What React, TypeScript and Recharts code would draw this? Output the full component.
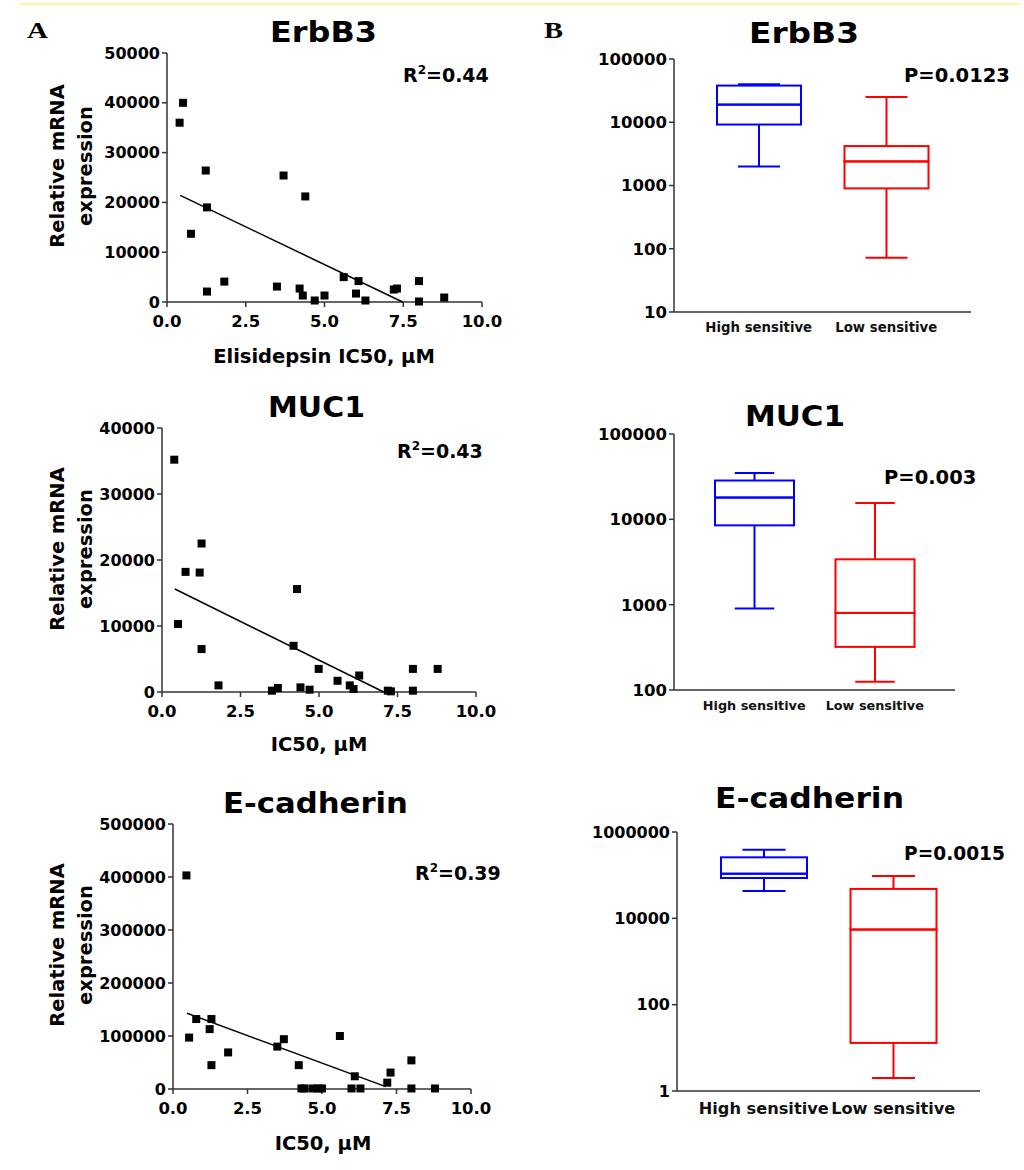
import React from 'react';
import { ScatterChart, Scatter, XAxis, YAxis, ComposedChart, Bar } from 'recharts';

// page has an 8px body margin by default; the figure is laid out from 0,0
if (typeof document !== 'undefined') document.body.style.margin = '0';

const FONT = '"DejaVu Sans", Verdana, sans-serif';
const AXIS = '#333';

// ---- panel A: IC50 (µM) vs relative mRNA expression ----
const icTicks = [0, 2.5, 5, 7.5, 10];

const erbb3Ic50 = [0.4, 0.51, 1.23, 1.27, 0.76, 1.27, 1.82, 3.49, 3.7, 4.39, 4.21, 4.31, 4.69, 5.0, 5.61, 6.08, 6.0, 6.3, 7.2, 7.3, 8.0, 8.0, 8.8];
const erbb3Expr = [36000, 40000, 26400, 19000, 13700, 2100, 4100, 3100, 25400, 21200, 2700, 1300, 300, 1300, 5000, 4200, 1700, 300, 2500, 2700, 4200, 100, 900];
const erbb3FitX = [0.42, 7.48];
const erbb3FitY = [21400, 0];
const erbb3YTicks = [0, 10000, 20000, 30000, 40000, 50000];

const muc1Ic50 = [0.39, 0.51, 0.75, 1.2, 1.26, 1.26, 1.8, 3.5, 3.69, 4.19, 4.3, 4.41, 4.7, 4.99, 5.59, 5.98, 6.1, 6.28, 7.19, 7.29, 7.99, 7.99, 8.78];
const muc1Expr = [35200, 10300, 18200, 18100, 22500, 6500, 1000, 200, 600, 7000, 15600, 700, 350, 3500, 1700, 1000, 450, 2500, 200, 100, 3500, 200, 3500];
const muc1FitX = [0.41, 7.06];
const muc1FitY = [15600, 0];
const muc1YTicks = [0, 10000, 20000, 30000, 40000];

const ecadIc50 = [0.45, 0.54, 0.78, 1.29, 1.23, 1.29, 1.85, 3.5, 3.72, 4.22, 4.31, 4.42, 4.7, 4.87, 5.0, 5.6, 5.99, 6.1, 6.29, 7.19, 7.3, 8.0, 8.0, 8.79];
const ecadExpr = [403000, 97000, 132000, 132000, 113000, 45000, 69000, 80000, 94000, 45000, 1000, 1000, 1000, 1000, 1000, 100000, 1000, 24000, 1000, 12000, 31000, 54000, 1000, 1000];
const ecadFitX = [0.47, 7.14];
const ecadFitY = [143000, 4400];
const ecadYTicks = [0, 100000, 200000, 300000, 400000, 500000];

// ---- panel B: box plots, [high sensitive, low sensitive] ----
const groups = ['High sensitive', 'Low sensitive'];
const groupColors = ['#0000ff', '#ff0000'];

const erbb3Min = [2000, 72];
const erbb3Q1 = [9200, 900];
const erbb3Med = [19000, 2400];
const erbb3Q3 = [38000, 4200];
const erbb3Max = [40000, 25000];
const erbb3LogTicks = [10, 100, 1000, 10000, 100000];

const muc1Min = [900, 125];
const muc1Q1 = [8500, 320];
const muc1Med = [18000, 800];
const muc1Q3 = [28500, 3400];
const muc1Max = [35000, 15500];
const muc1LogTicks = [100, 1000, 10000, 100000];

const ecadMin = [43000, 2];
const ecadQ1 = [86000, 13];
const ecadMed = [108000, 5500];
const ecadQ3 = [259000, 48000];
const ecadMax = [390000, 96000];
const ecadLogTicks = [1, 100, 10000, 1000000];

const tickStyle = (size: number) => ({ fontSize: size, fontWeight: 700, fill: '#000', fontFamily: FONT });

const square = (p: any) => <rect x={p.cx - 4} y={p.cy - 4} width={8} height={8} fill="#000" />;
const noDot = () => <g />;

function ScatterPanel({ x0, y0, x1, y1, xs, ys, fitX, fitY, yTicks }: any) {
  const yAxisW = 90;
  const top = y0 - 10;
  const xAxisH = 32;
  const width = x1 + 30;
  const height = y1 - top + xAxisH + 8;
  const pts = xs.map((x: number, i: number) => ({ x, y: ys[i] }));
  const fit = fitX.map((x: number, i: number) => ({ x, y: fitY[i] }));
  return (
    <div style={{ position: 'absolute', left: 0, top }}>
      <ScatterChart width={width} height={height} margin={{ top: 10, right: 30, bottom: 8, left: x0 - yAxisW }}>
        <XAxis
          type="number"
          dataKey="x"
          domain={[0, 10]}
          ticks={icTicks}
          interval={0}
          tickFormatter={(v: number) => v.toFixed(1)}
          height={xAxisH}
          tickSize={5}
          tickMargin={8}
          tick={tickStyle(16.5)}
          axisLine={{ stroke: AXIS, strokeWidth: 1.5 }}
          tickLine={{ stroke: AXIS, strokeWidth: 1.5 }}
        />
        <YAxis
          type="number"
          dataKey="y"
          domain={[0, yTicks[yTicks.length - 1]]}
          ticks={yTicks}
          interval={0}
          width={yAxisW}
          tickSize={5}
          tickMargin={2}
          tick={tickStyle(16)}
          axisLine={{ stroke: AXIS, strokeWidth: 1.5 }}
          tickLine={{ stroke: AXIS, strokeWidth: 1.5 }}
        />
        <Scatter data={pts} shape={square} isAnimationActive={false} />
        <Scatter data={fit} line={{ stroke: '#000', strokeWidth: 1.5 }} shape={noDot} isAnimationActive={false} />
      </ScatterChart>
    </div>
  );
}

const span = (p: any) => {
  const top = Math.min(p.y, p.y + p.height);
  const h = Math.abs(p.height);
  return { top, h, cx: p.x + p.width / 2 };
};

const boxPart = (p: any) => {
  const { top, h } = span(p);
  return <rect x={p.x} y={top} width={p.width} height={h} fill="none" stroke={groupColors[p.index]} strokeWidth={2} />;
};

const upperWhisker = (p: any) => {
  const { top, h, cx } = span(p);
  const c = groupColors[p.index];
  return (
    <g stroke={c} strokeWidth={2}>
      <line x1={cx} x2={cx} y1={top} y2={top + h} />
      <line x1={cx - p.width / 4} x2={cx + p.width / 4} y1={top} y2={top} />
    </g>
  );
};

const lowerWhisker = (p: any) => {
  const { top, h, cx } = span(p);
  const c = groupColors[p.index];
  return (
    <g stroke={c} strokeWidth={2}>
      <line x1={cx} x2={cx} y1={top} y2={top + h} />
      <line x1={cx - p.width / 4} x2={cx + p.width / 4} y1={top + h} y2={top + h} />
    </g>
  );
};

function BoxPanel({ x0, y0, x1, y1, mins, q1s, meds, q3s, maxs, yTicks, boxW, pad, labelSize, yFont }: any) {
  const left = 520;
  const yAxisW = 90;
  const top = y0 - 10;
  const xAxisH = 30;
  const width = x1 - left + 20;
  const height = y1 - top + xAxisH + 8;
  const rows = groups.map((g, i) => ({ group: g, min: mins[i], q1: q1s[i], med: meds[i], q3: q3s[i], max: maxs[i] }));
  const hiddenAxis = (id: string) => (
    <XAxis xAxisId={id} dataKey="group" type="category" padding={{ left: pad, right: pad }} hide />
  );
  return (
    <div style={{ position: 'absolute', left, top }}>
      <ComposedChart width={width} height={height} data={rows} margin={{ top: 10, right: 20, bottom: 8, left: x0 - left - yAxisW }}>
        <XAxis
          xAxisId="lower"
          dataKey="group"
          type="category"
          padding={{ left: pad, right: pad }}
          interval={0}
          height={xAxisH}
          tickLine={false}
          tickSize={0}
          tickMargin={11}
          tick={{ fontSize: labelSize, fontWeight: 700, fill: '#111', fontFamily: FONT }}
          axisLine={{ stroke: AXIS, strokeWidth: 1.5 }}
        />
        {hiddenAxis('upper')}
        {hiddenAxis('whiskHi')}
        {hiddenAxis('whiskLo')}
        <YAxis
          type="number"
          scale="log"
          domain={[yTicks[0], yTicks[yTicks.length - 1]]}
          ticks={yTicks}
          interval={0}
          allowDataOverflow
          width={yAxisW}
          tickSize={5}
          tickMargin={2}
          tick={tickStyle(yFont)}
          axisLine={{ stroke: AXIS, strokeWidth: 1.5 }}
          tickLine={{ stroke: AXIS, strokeWidth: 1.5 }}
        />
        <Bar xAxisId="lower" dataKey={(d: any) => [d.q1, d.med]} barSize={boxW} shape={boxPart} isAnimationActive={false} />
        <Bar xAxisId="upper" dataKey={(d: any) => [d.med, d.q3]} barSize={boxW} shape={boxPart} isAnimationActive={false} />
        <Bar xAxisId="whiskHi" dataKey={(d: any) => [d.q3, d.max]} barSize={boxW} shape={upperWhisker} isAnimationActive={false} />
        <Bar xAxisId="whiskLo" dataKey={(d: any) => [d.min, d.q1]} barSize={boxW} shape={lowerWhisker} isAnimationActive={false} />
      </ComposedChart>
    </div>
  );
}

const bold = { fontFamily: FONT, fontWeight: 700, fill: '#000' } as const;
const SERIF = '"Liberation Serif", "DejaVu Serif", serif';

function Title({ cx, y, w, children }: any) {
  return (
    <text x={cx} y={y} textAnchor="middle" fontSize={29} textLength={w} lengthAdjust="spacingAndGlyphs" {...bold}>
      {children}
    </text>
  );
}

function R2({ x, y, value }: any) {
  return (
    <text x={x} y={y} fontSize={19} {...bold}>
      R<tspan dy={-8} fontSize={12}>2</tspan>
      <tspan dy={8}>={value}</tspan>
    </text>
  );
}

function YLabel({ cy }: any) {
  return (
    <g>
      <text transform={`translate(64,${cy}) rotate(-90)`} textAnchor="middle" fontSize={19.5} {...bold}>
        Relative mRNA
      </text>
      <text transform={`translate(92,${cy}) rotate(-90)`} textAnchor="middle" fontSize={19.5} {...bold}>
        expression
      </text>
    </g>
  );
}

export default function App() {
  return (
    <div style={{ position: 'relative', width: 1024, height: 1170, background: '#fff', overflow: 'hidden' }}>
      <ScatterPanel x0={167} y0={53} x1={482} y1={302} xs={erbb3Ic50} ys={erbb3Expr} fitX={erbb3FitX} fitY={erbb3FitY} yTicks={erbb3YTicks} />
      <ScatterPanel x0={162} y0={428} x1={476} y1={692} xs={muc1Ic50} ys={muc1Expr} fitX={muc1FitX} fitY={muc1FitY} yTicks={muc1YTicks} />
      <ScatterPanel x0={173} y0={824} x1={471} y1={1089} xs={ecadIc50} ys={ecadExpr} fitX={ecadFitX} fitY={ecadFitY} yTicks={ecadYTicks} />

      <BoxPanel x0={674} y0={59} x1={971} y1={312} mins={erbb3Min} q1s={erbb3Q1} meds={erbb3Med} q3s={erbb3Q3} maxs={erbb3Max} yTicks={erbb3LogTicks} boxW={84} pad={21} labelSize={13.3} yFont={16.5} />
      <BoxPanel x0={674} y0={434} x1={955} y1={690} mins={muc1Min} q1s={muc1Q1} meds={muc1Med} q3s={muc1Q3} maxs={muc1Max} yTicks={muc1LogTicks} boxW={79} pad={20} labelSize={12.8} yFont={16.5} />
      <BoxPanel x0={677} y0={832} x1={980} y1={1091} mins={ecadMin} q1s={ecadQ1} meds={ecadMed} q3s={ecadQ3} maxs={ecadMax} yTicks={ecadLogTicks} boxW={86} pad={22} labelSize={16.2} yFont={16} />

      <svg width={1024} height={1170} style={{ position: 'absolute', left: 0, top: 0, pointerEvents: 'none' }}>
        <line x1={20} y1={4} x2={1020} y2={4} stroke="#fff59d" strokeWidth={2} />
        <text x={27} y={38} fontSize={24} fontFamily={SERIF} fontWeight={700} textLength={21} lengthAdjust="spacingAndGlyphs">A</text>
        <text x={544} y={38} fontSize={24} fontFamily={SERIF} fontWeight={700} textLength={19} lengthAdjust="spacingAndGlyphs">B</text>

        <Title cx={323.5} y={42} w={107}>ErbB3</Title>
        <Title cx={316.5} y={417} w={97}>MUC1</Title>
        <Title cx={315.5} y={813} w={185}>E-cadherin</Title>
        <Title cx={804} y={43} w={110}>ErbB3</Title>
        <Title cx={795} y={426} w={100}>MUC1</Title>
        <Title cx={809.5} y={808} w={189}>E-cadherin</Title>

        <R2 x={403} y={82} value="0.44" />
        <R2 x={397} y={458} value="0.43" />
        <R2 x={415} y={880} value="0.39" />

        <text x={904} y={82} fontSize={19.5} {...bold}>P=0.0123</text>
        <text x={884} y={484} fontSize={19.5} {...bold}>P=0.003</text>
        <text x={904} y={860} fontSize={18.6} {...bold}>P=0.0015</text>

        <text x={324} y={363} textAnchor="middle" fontSize={19.5} {...bold}>Elisidepsin IC50, µM</text>
        <text x={319} y={751} textAnchor="middle" fontSize={19.5} {...bold}>IC50, µM</text>
        <text x={323} y={1150} textAnchor="middle" fontSize={19.5} {...bold}>IC50, µM</text>

        <YLabel cy={166} />
        <YLabel cy={549} />
        <YLabel cy={945} />
      </svg>
    </div>
  );
}
